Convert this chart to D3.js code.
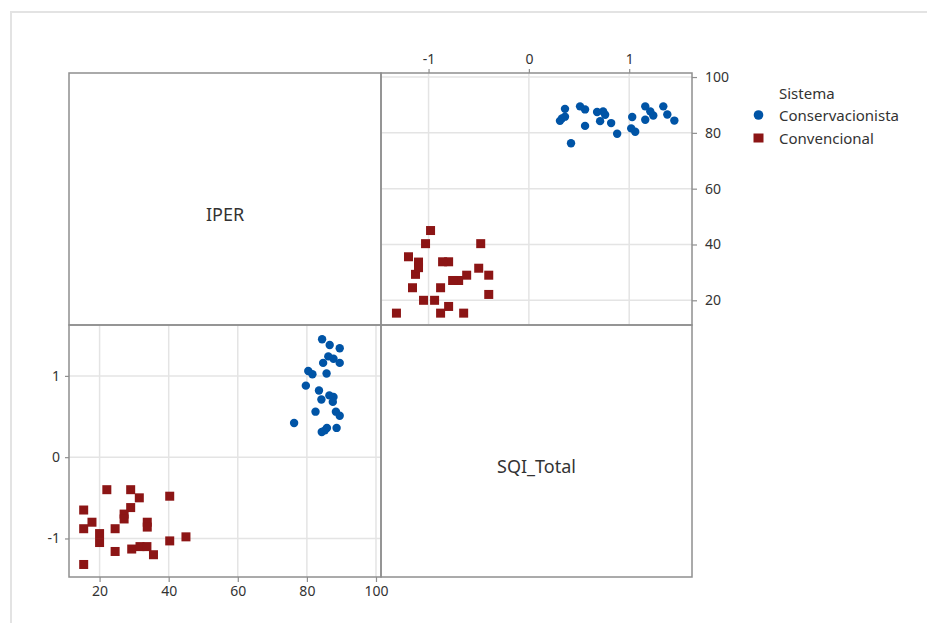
<!DOCTYPE html>
<html>
<head>
<meta charset="utf-8">
<script src="https://cdn.jsdelivr.net/npm/d3@7"></script>
<style>
  body { margin: 0; background: #fff; }
  svg text { font-family: "Noto Sans", "Open Sans", sans-serif; fill: #333; }
</style>
</head>
<body>
<script>
// data: one value per plot point
var conservIPER = [84.4, 86.6, 89.5, 86.2, 87.7, 84.7, 89.5, 80.4, 81.6, 85.7, 79.7, 83.5,
                   86.5, 84.2, 87.7, 87.5, 82.5, 88.4, 89.5, 76.3, 85.8, 85.2, 84.3, 88.6];
var conservSQI  = [1.45, 1.38, 1.34, 1.24, 1.21, 1.16, 1.16, 1.06, 1.02, 1.03, 0.88, 0.82,
                   0.76, 0.71, 0.74, 0.68, 0.56, 0.56, 0.51, 0.42, 0.36, 0.33, 0.31, 0.36];
var convenIPER  = [22.1, 29.0, 31.5, 40.3, 29.0, 27.1, 27.1, 15.4, 17.8, 15.4, 24.5, 33.8,
                   33.8, 20.0, 20.0, 24.5, 29.3, 31.7, 33.7, 35.6, 40.3, 45.0, 15.4];
var convenSQI   = [-0.40, -0.40, -0.50, -0.48, -0.62, -0.70, -0.76, -0.65, -0.80, -0.88, -0.88, -0.80,
                   -0.86, -0.94, -1.05, -1.16, -1.13, -1.10, -1.10, -1.20, -1.03, -0.98, -1.32];

var iperTicks = [20, 40, 60, 80, 100];
var sqiTicks = [-1, 0, 1];
var groups = ["Conservacionista", "Convencional"];
var colors = ["#0054a6", "#8c1515"];

var W = 927, H = 623;
var x0 = 69, xMid = 381, x1 = 692;
var y0 = 73, yMid = 325, y1 = 577;

var svg = d3.select("body").append("svg")
    .attr("width", W)
    .attr("height", H);

// light outer border
svg.append("path")
    .attr("d", "M11," + H + "V12H" + W)
    .attr("fill", "none")
    .attr("stroke", "#e3e3e3")
    .attr("stroke-width", 2);

var iperDomain = [11.15, 101.45],
    sqiDomain = [-1.474, 1.626];

// top-right panel: x = SQI_Total, y = IPER
var xTR = d3.scaleLinear().domain(sqiDomain).range([xMid, x1]);
var yTR = d3.scaleLinear().domain(iperDomain).range([yMid, y0]);
// bottom-left panel: x = IPER, y = SQI_Total
var xBL = d3.scaleLinear().domain(iperDomain).range([x0, xMid]);
var yBL = d3.scaleLinear().domain(sqiDomain).range([y1, yMid]);

var grid = svg.append("g")
    .attr("stroke", "#e4e4e4")
    .attr("stroke-width", 1.5);

//gridlines
grid.selectAll(".gtrx").data(sqiTicks).enter().append("line")
    .attr("x1", function(d) { return xTR(d); }).attr("x2", function(d) { return xTR(d); })
    .attr("y1", y0).attr("y2", yMid);
grid.selectAll(".gtry").data(iperTicks).enter().append("line")
    .attr("y1", function(d) { return yTR(d); }).attr("y2", function(d) { return yTR(d); })
    .attr("x1", xMid).attr("x2", x1);
grid.selectAll(".gblx").data(iperTicks).enter().append("line")
    .attr("x1", function(d) { return xBL(d); }).attr("x2", function(d) { return xBL(d); })
    .attr("y1", yMid).attr("y2", y1);
grid.selectAll(".gbly").data(sqiTicks).enter().append("line")
    .attr("y1", function(d) { return yBL(d); }).attr("y2", function(d) { return yBL(d); })
    .attr("x1", x0).attr("x2", xMid);

// points
var sets = [
    { iper: conservIPER, sqi: conservSQI, color: colors[0], shape: "circle" },
    { iper: convenIPER, sqi: convenSQI, color: colors[1], shape: "square" }
];

function drawMarks(g, xs, ys, xScale, yScale, set) {
    var pts = xs.map(function(v, i) { return [v, ys[i]]; });
    if (set.shape === "circle") {
        g.selectAll(null).data(pts).enter().append("circle")
            .attr("cx", function(d) { return xScale(d[0]); })
            .attr("cy", function(d) { return yScale(d[1]); })
            .attr("r", 4.2)
            .attr("fill", set.color);
    } else {
        g.selectAll(null).data(pts).enter().append("rect")
            .attr("x", function(d) { return xScale(d[0]) - 4.5; })
            .attr("y", function(d) { return yScale(d[1]) - 4.5; })
            .attr("width", 9)
            .attr("height", 9)
            .attr("fill", set.color);
    }
}

var marks = svg.append("g");
sets.forEach(function(s) {
    drawMarks(marks, s.sqi, s.iper, xTR, yTR, s);
    drawMarks(marks, s.iper, s.sqi, xBL, yBL, s);
});

// frames
svg.append("g")
    .attr("fill", "none")
    .attr("stroke", "#8f8f8f")
    .attr("stroke-width", 1.5)
    .selectAll("rect")
    .data([[x0, y0, xMid, yMid], [xMid, y0, x1, yMid], [x0, yMid, xMid, y1], [xMid, yMid, x1, y1]])
    .enter().append("rect")
    .attr("x", function(d) { return d[0]; })
    .attr("y", function(d) { return d[1]; })
    .attr("width", function(d) { return d[2] - d[0]; })
    .attr("height", function(d) { return d[3] - d[1]; });

//AXES
function styleAxis(g) {
    g.select(".domain").remove();
    g.selectAll(".tick line").attr("stroke", "#8f8f8f").attr("stroke-width", 1.2);
    g.selectAll(".tick text").attr("font-size", "14px").attr("fill", "#333");
}
var plainFmt = function(d) { return String(d); };

svg.append("g")
    .attr("transform", "translate(0," + y0 + ")")
    .call(d3.axisTop(xTR).tickValues(sqiTicks).tickSize(4).tickPadding(5).tickFormat(plainFmt))
    .call(styleAxis);

svg.append("g")
    .attr("transform", "translate(" + x1 + ",0)")
    .call(d3.axisRight(yTR).tickValues(iperTicks).tickSize(5).tickPadding(8).tickFormat(plainFmt))
    .call(styleAxis);

svg.append("g")
    .attr("transform", "translate(0," + y1 + ")")
    .call(d3.axisBottom(xBL).tickValues(iperTicks).tickSize(5).tickPadding(4).tickFormat(plainFmt))
    .call(styleAxis);

svg.append("g")
    .attr("transform", "translate(" + x0 + ",0)")
    .call(d3.axisLeft(yBL).tickValues(sqiTicks).tickSize(4).tickPadding(5).tickFormat(plainFmt))
    .call(styleAxis);

// variable names on the diagonal
svg.append("text")
    .attr("x", (x0 + xMid) / 2)
    .attr("y", 221)
    .attr("text-anchor", "middle")
    .attr("font-size", "18px")
    .text("IPER");

svg.append("text")
    .attr("x", (xMid + x1) / 2)
    .attr("y", 473)
    .attr("text-anchor", "middle")
    .attr("font-size", "18px")
    .text("SQI_Total");

// legend
var legend = svg.append("g").attr("transform", "translate(752,0)");
legend.append("text")
    .attr("x", 27).attr("y", 99)
    .attr("font-size", "15px")
    .text("Sistema");

legend.append("circle")
    .attr("cx", 6.5).attr("cy", 115)
    .attr("r", 4.8)
    .attr("fill", colors[0]);
legend.append("rect")
    .attr("x", 1.5).attr("y", 133.5)
    .attr("width", 10).attr("height", 9)
    .attr("fill", colors[1]);

legend.selectAll(".ltext").data(groups).enter().append("text")
    .attr("x", 27)
    .attr("y", function(d, i) { return 121 + i * 23; })
    .attr("font-size", "15px")
    .text(function(d) { return d; });
</script>
</body>
</html>
